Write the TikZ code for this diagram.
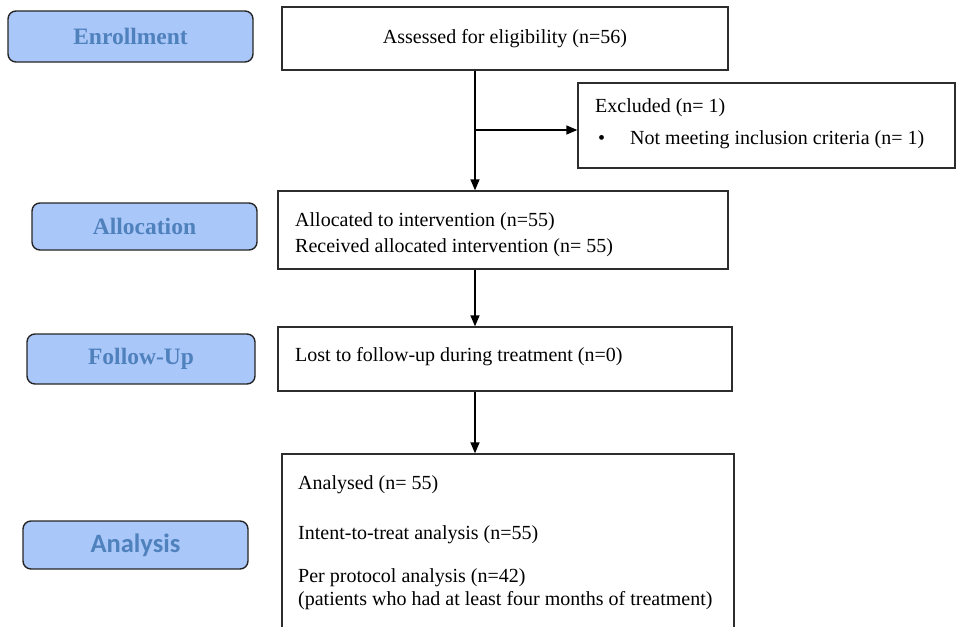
\documentclass[tikz,border=0pt]{standalone}
\usepackage{fontspec}
\setmainfont{Liberation Serif}
\newfontfamily\stagesans{Carlito}
\usetikzlibrary{arrows.meta}
\definecolor{stagefill}{RGB}{170,199,250}
\definecolor{stagetext}{RGB}{79,129,189}
\definecolor{boxline}{RGB}{45,45,45}
\begin{document}
\begin{tikzpicture}[x=1pt,y=-1pt,
  stage/.style={draw=black!85, line width=1.4pt, rounded corners=8pt, fill=stagefill, text=stagetext, font=\fontsize{23.5}{26}\selectfont\bfseries, inner sep=0pt},
  flowbox/.style={draw=boxline, line width=1.3pt, inner sep=0pt},
  txt/.style={font=\fontsize{20}{24}\selectfont, inner sep=0pt, anchor=west},
  arr/.style={-{Triangle[length=11pt,width=9pt]}, line width=1.4pt}]
\useasboundingbox (0,0) rectangle (957,626);
% stage labels
\node[stage, minimum width=245pt, minimum height=51pt] (enroll) at (130.5,36.5) {Enrollment};
\node[stage, minimum width=225pt, minimum height=47pt] (allocS) at (144.5,226.5) {Allocation};
\node[stage, minimum width=228pt, minimum height=50pt] (followS) at (141,359) {Follow-Up};
\node[stage, minimum width=225pt, minimum height=48pt, font=\fontsize{26.5}{28}\selectfont\stagesans\bfseries] (analysisS) at (135.5,545) {Analysis};
% flow boxes
\node[flowbox, minimum width=446pt, minimum height=63pt, font=\fontsize{20}{24}\selectfont] (assess) at (505,38.5) {Assessed for eligibility (n=56)};
\node[flowbox, minimum width=377pt, minimum height=85pt] (excl) at (766.5,125.5) {};
\node[flowbox, minimum width=450pt, minimum height=78pt] (alloc) at (503,230) {};
\node[flowbox, minimum width=454pt, minimum height=64pt] (follow) at (505,359) {};
\node[flowbox, minimum width=452pt, minimum height=196pt] (analysis) at (508,552) {};
% texts
\node[txt] (exT) at (595,108) {Excluded (n= 1)};
\node[txt] (exB) at (598,140) {\textbullet};
\node[txt] (exR) at (630,140) {Not meeting inclusion criteria (n= 1)};
\node[txt] (alT1) at (295,221.5) {Allocated to intervention (n=55)};
\node[txt] (alT2) at (295,247.5) {Received allocated intervention (n= 55)};
\node[txt] (foT) at (295,357) {Lost to follow-up during treatment (n=0)};
\node[txt] (anT1) at (298,485) {Analysed (n= 55)};
\node[txt] (anT2) at (298,535) {Intent-to-treat analysis (n=55)};
\node[txt] (anT3) at (298,578) {Per protocol analysis (n=42)};
\node[txt] (anT4) at (298,601) {(patients who had at least four months of treatment)};
% connectors
\coordinate (junction) at (475,130);
\draw[arr] (assess.south -| junction) -- (alloc.north -| junction);
\draw[arr] (junction) -- (junction -| excl.west);
\draw[arr] (alloc.south -| junction) -- (follow.north -| junction);
\draw[arr] (follow.south -| junction) -- (analysis.north -| junction);
\end{tikzpicture}
\end{document}
